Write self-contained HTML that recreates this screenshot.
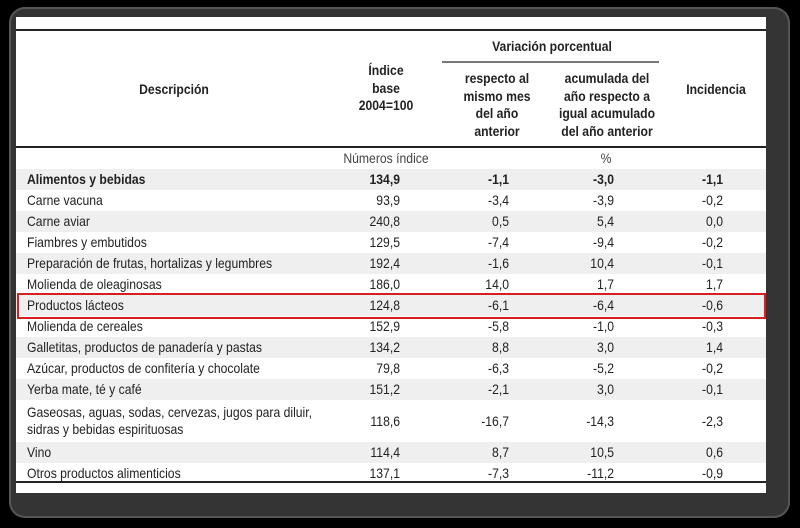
<!DOCTYPE html>
<html><head><meta charset="utf-8">
<style>
html,body{margin:0;padding:0;background:#000;}
#wrap{position:relative;width:800px;height:528px;overflow:hidden;background:#000;}
#frame{position:absolute;left:9px;top:7px;width:781px;height:511px;border-radius:16px;background:#343434;box-shadow:inset 0 0 0 2px #555;}
#panel{position:absolute;left:16px;top:17px;width:750px;height:476px;background:#fff;}
.t{position:absolute;font-family:"Liberation Sans Narrow","Liberation Sans",sans-serif;font-size:14px;color:#222;white-space:nowrap;line-height:17px;transform:scaleX(0.87);transform-origin:left center;}
.b{font-weight:bold;}
.h{font-weight:bold;text-align:center;line-height:17.5px;transform-origin:center center;}
.c{text-align:center;transform-origin:center center;}
.rule{position:absolute;background:#222;}
.row{position:absolute;left:16px;width:750px;}
.g{background:#efefef;}
.r{text-align:right;transform-origin:right center;}
</style></head>
<body>
<div id="wrap">
<div id="frame"></div>
<div id="panel"></div>
<div class="rule" style="left:16px;top:29px;width:750px;height:2px;"></div>
<div class="rule" style="left:16px;top:146px;width:750px;height:2px;"></div>
<div class="rule" style="left:442px;top:61px;width:217px;height:1.5px;background:#777;"></div>
<div class="t h" style="left:94px;top:81px;width:160px;">Descripción</div>
<div class="t h" style="left:336px;top:62px;width:100px;">Índice<br>base<br>2004=100</div>
<div class="t h" style="left:452px;top:38px;width:200px;">Variación porcentual</div>
<div class="t h" style="left:447px;top:70px;width:100px;">respecto al<br>mismo mes<br>del año<br>anterior</div>
<div class="t h" style="left:547px;top:70px;width:120px;">acumulada del<br>año respecto a<br>igual acumulado<br>del año anterior</div>
<div class="t h" style="left:666px;top:81px;width:100px;">Incidencia</div>
<div class="t c" style="left:336px;top:150px;width:100px;color:#444;">Números índice</div>
<div class="t c" style="left:576px;top:150px;width:60px;color:#444;">%</div>
<div id="rows"></div>
<div class="rule" style="left:16px;top:481px;width:750px;height:2px;"></div>
<div style="position:absolute;left:17px;top:293px;width:745px;height:22px;border:2px solid #d42020;"></div>
</div>
<script>
const names=["Alimentos y bebidas","Carne vacuna","Carne aviar","Fiambres y embutidos","Preparación de frutas, hortalizas y legumbres","Molienda de oleaginosas","Productos lácteos","Molienda de cereales","Galletitas, productos de panadería y pastas","Azúcar, productos de confitería y chocolate","Yerba mate, té y café","Gaseosas, aguas, sodas, cervezas, jugos para diluir,<br>sidras y bebidas espirituosas","Vino","Otros productos alimenticios"];
const indice=["134,9","93,9","240,8","129,5","192,4","186,0","124,8","152,9","134,2","79,8","151,2","118,6","114,4","137,1"];
const varMes=["-1,1","-3,4","0,5","-7,4","-1,6","14,0","-6,1","-5,8","8,8","-6,3","-2,1","-16,7","8,7","-7,3"];
const varAcum=["-3,0","-3,9","5,4","-9,4","10,4","1,7","-6,4","-1,0","3,0","-5,2","3,0","-14,3","10,5","-11,2"];
const incid=["-1,1","-0,2","0,0","-0,2","-0,1","1,7","-0,6","-0,3","1,4","-0,2","-0,1","-2,3","0,6","-0,9"];
const rows=document.getElementById('rows');
let y=169;
names.forEach((n,i)=>{
  const h=(i===11)?42:21;
  const bg=document.createElement('div');
  bg.className='row'+(i%2===0?' g':'');
  bg.style.top=y+'px';bg.style.height=h+'px';
  
  
  rows.appendChild(bg);
  const cy=y+h/2-8.5;
  const cells=[[n,27,null,'desc'],[indice[i],300,400,'indice'],[varMes[i],420,509,'var-mes'],[varAcum[i],520,614,'var-acum'],[incid[i],630,723,'incidencia']];
  cells.forEach(c=>{
    const d=document.createElement('div');
    d.className='t'+(i===0?' b':'')+(c[2]?' r':'');
    d.innerHTML=c[0];
    d.style.left=c[1]+'px';
    if(c[2]) d.style.width=(c[2]-c[1])+'px';
    d.style.top=(i===11&&!c[2]?(y+4):cy)+'px';
    
    
    rows.appendChild(d);
  });
  y+=h;
});
</script>
</body></html>
